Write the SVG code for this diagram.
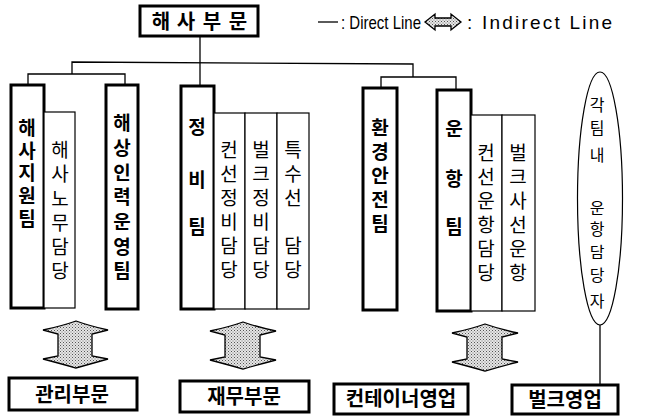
<svg xmlns="http://www.w3.org/2000/svg" width="649" height="416" viewBox="0 0 649 416">
<defs>
<pattern id="dots" width="3" height="3" patternUnits="userSpaceOnUse">
<rect width="3" height="3" fill="#e6e6e6"/>
<rect x="0" y="0" width="1" height="1" fill="#555"/>
<rect x="1.5" y="1.5" width="1" height="1" fill="#777"/>
</pattern>
</defs>
<style>
.thick{fill:#fff;stroke:#000;stroke-width:3}
.thin{fill:#fff;stroke:#000;stroke-width:1.2}
.ln{stroke:#000;stroke-width:1.3;fill:none}
.kb{font-family:"Noto Sans CJK KR","Noto Sans CJK SC",sans-serif;font-weight:bold;font-size:19px;text-anchor:middle;fill:#000}
.kn{font-family:"Noto Sans CJK KR","Noto Sans CJK SC",sans-serif;font-weight:normal;font-size:19px;text-anchor:middle;fill:#000}
.ke{font-family:"Noto Sans CJK KR","Noto Sans CJK SC",sans-serif;font-weight:normal;font-size:16px;text-anchor:middle;fill:#000}
.en{font-family:"Liberation Sans",Arial,sans-serif;font-size:19px;fill:#000}
.arr{fill:url(#dots);stroke:#000;stroke-width:1.3}
</style>
<rect width="649" height="416" fill="#fff"/>

<g id="connectors">
<line class="ln" x1="200" y1="36" x2="200" y2="86"/>
<polyline class="ln" points="72,74 72,62 413,64 413,77"/>
<polyline class="ln" points="28,85 28,74 125,74 125,85"/>
<polyline class="ln" points="381,88 381,77 456,77 456,90"/>
<line class="ln" x1="600" y1="325" x2="600" y2="385"/>
</g>

<g id="legend">
<line class="ln" x1="318" y1="22" x2="338" y2="22"/>
<text class="en" x="341" y="29" textLength="80" lengthAdjust="spacingAndGlyphs">: Direct Line</text>
<path class="arr" d="M425,22 L435,14 L435,18 L451,18 L451,14 L461,22 L451,30 L451,26 L435,26 L435,30 Z"/>
<text class="en" x="467" y="29" textLength="145" lengthAdjust="spacing">: Indirect Line</text>
</g>

<g id="haesa-bumun">
<rect class="thick" x="140" y="6" width="118" height="30"/>
<text class="kb" y="29" style="font-size:20px"><tspan x="161">해</tspan><tspan x="186">사</tspan><tspan x="212">부</tspan><tspan x="238">문</tspan></text>
</g>

<g id="haesa-jiwon">
<rect class="thick" x="11" y="85" width="33" height="223"/>
<text class="kb"><tspan x="27" y="135">해</tspan><tspan x="27" y="158">사</tspan><tspan x="27" y="180">지</tspan><tspan x="27" y="203">원</tspan><tspan x="27" y="226">팀</tspan></text>
</g>
<g id="haesa-nomu">
<rect class="thin" x="44" y="112" width="31" height="196"/>
<text class="kn"><tspan x="60" y="157">해</tspan><tspan x="60" y="181">사</tspan><tspan x="60" y="206">노</tspan><tspan x="60" y="230">무</tspan><tspan x="60" y="254">담</tspan><tspan x="60" y="278">당</tspan></text>
</g>
<g id="haesang-inryeok">
<rect class="thick" x="106" y="85" width="32" height="224"/>
<text class="kb"><tspan x="122" y="130">해</tspan><tspan x="122" y="155">상</tspan><tspan x="122" y="180">인</tspan><tspan x="122" y="204">력</tspan><tspan x="122" y="229">운</tspan><tspan x="122" y="254">영</tspan><tspan x="122" y="278">팀</tspan></text>
</g>
<g id="jeongbi">
<rect class="thick" x="181" y="86" width="33" height="223"/>
<text class="kb"><tspan x="197" y="134">정</tspan><tspan x="197" y="187">비</tspan><tspan x="197" y="234">팀</tspan></text>
</g>
<g id="conseon-jeongbi">
<rect class="thin" x="214" y="113" width="31" height="196"/>
<text class="kn"><tspan x="229" y="157">컨</tspan><tspan x="229" y="181">선</tspan><tspan x="229" y="205">정</tspan><tspan x="229" y="229">비</tspan><tspan x="229" y="253">담</tspan><tspan x="229" y="277">당</tspan></text>
</g>
<g id="bulk-jeongbi">
<rect class="thin" x="245" y="113" width="32" height="196"/>
<text class="kn"><tspan x="261" y="157">벌</tspan><tspan x="261" y="181">크</tspan><tspan x="261" y="205">정</tspan><tspan x="261" y="229">비</tspan><tspan x="261" y="253">담</tspan><tspan x="261" y="277">당</tspan></text>
</g>
<g id="teuksuseon">
<rect class="thin" x="277" y="113" width="32" height="196"/>
<text class="kn"><tspan x="293" y="157">특</tspan><tspan x="293" y="181">수</tspan><tspan x="293" y="205">선</tspan><tspan x="293" y="253">담</tspan><tspan x="293" y="277">당</tspan></text>
</g>
<g id="hwangyeong">
<rect class="thick" x="363" y="88" width="34" height="222"/>
<text class="kb"><tspan x="380" y="135">환</tspan><tspan x="380" y="159">경</tspan><tspan x="380" y="183">안</tspan><tspan x="380" y="207">전</tspan><tspan x="380" y="231">팀</tspan></text>
</g>
<g id="unhang">
<rect class="thick" x="437" y="90" width="34" height="221"/>
<text class="kb"><tspan x="454" y="136">운</tspan><tspan x="454" y="186">항</tspan><tspan x="454" y="234">팀</tspan></text>
</g>
<g id="conseon-unhang">
<rect class="thin" x="471" y="115" width="31" height="196"/>
<text class="kn"><tspan x="486" y="160">컨</tspan><tspan x="486" y="184">선</tspan><tspan x="486" y="208">운</tspan><tspan x="486" y="232">항</tspan><tspan x="486" y="256">담</tspan><tspan x="486" y="280">당</tspan></text>
</g>
<g id="bulk-saseon">
<rect class="thin" x="502" y="115" width="33" height="196"/>
<text class="kn"><tspan x="518" y="160">벌</tspan><tspan x="518" y="184">크</tspan><tspan x="518" y="208">사</tspan><tspan x="518" y="232">선</tspan><tspan x="518" y="256">운</tspan><tspan x="518" y="280">항</tspan></text>
</g>
<g id="gakteam-unhang">
<ellipse class="thin" cx="600" cy="198.5" rx="22.5" ry="126.5"/>
<text class="ke"><tspan x="597" y="111">각</tspan><tspan x="597" y="134">팀</tspan><tspan x="597" y="161">내</tspan><tspan x="597" y="214">운</tspan><tspan x="597" y="235">항</tspan><tspan x="597" y="258">담</tspan><tspan x="597" y="281">당</tspan><tspan x="597" y="307">자</tspan></text>
</g>

<g id="indirect-arrows">
<path class="arr" d="M76,321 Q62,326 43,330 L58,334 L58,356 L43,359 Q62,364 76,368 Q90,364 108,359 L92,356 L92,334 L108,330 Q90,326 76,321 Z"/>
<path class="arr" d="M243,322 Q229,327 210,331 L225,335 L225,357 L210,360 Q229,365 243,369 Q257,365 276,360 L260,357 L260,335 L276,331 Q257,327 243,322 Z"/>
<path class="arr" d="M485,324 Q471,329 452,333 L467,337 L467,359 L452,362 Q471,367 485,371 Q499,367 518,362 L502,359 L502,337 L518,333 Q499,329 485,324 Z"/>
</g>

<g id="gwanri">
<rect class="thick" x="9" y="378" width="128" height="32" stroke-width="2.5"/>
<text class="kb" x="72" y="402" style="font-size:20px">관리부문</text>
</g>
<g id="jaemu">
<rect class="thick" x="180" y="381" width="129" height="31" stroke-width="2.5"/>
<text class="kb" x="244" y="404" style="font-size:20px">재무부문</text>
</g>
<g id="container">
<rect class="thick" x="334" y="384" width="134" height="30" stroke-width="2.5"/>
<text class="kb" x="401" y="406" style="font-size:20px">컨테이너영업</text>
</g>
<g id="bulk-yeongeop">
<rect class="thick" x="512" y="385" width="106" height="29" stroke-width="2.5"/>
<text class="kb" x="565" y="407" style="font-size:20px">벌크영업</text>
</g>
</svg>
